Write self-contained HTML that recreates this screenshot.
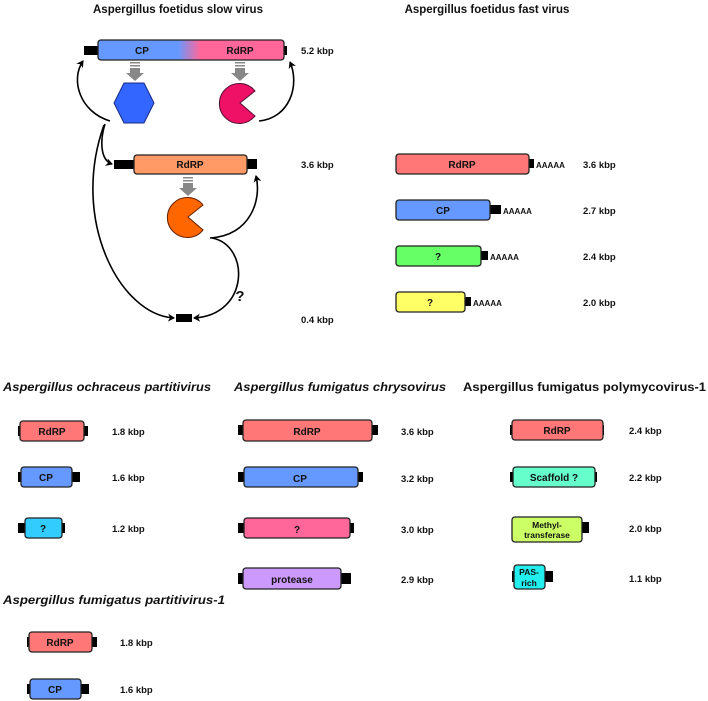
<!DOCTYPE html>
<html><head><meta charset="utf-8"><style>
body{margin:0;background:#fff}
svg{display:block}
text{font-family:"Liberation Sans",sans-serif;font-weight:bold;fill:#111}
.t{font-size:11.5px}
.l{font-size:9.5px}
.b{font-size:10px}
.a{font-size:8px}
.r{stroke:#222;stroke-width:1.3}
.c{fill:none;stroke:#000;stroke-width:1.6}
</style></head><body>
<svg width="708" height="701" viewBox="0 0 708 701" xmlns="http://www.w3.org/2000/svg">
<defs>
<linearGradient id="g" x1="98" x2="284" y1="0" y2="0" gradientUnits="userSpaceOnUse">
<stop offset="0.43" stop-color="#6699ff"/><stop offset="0.55" stop-color="#ff6699"/></linearGradient>
<marker id="m" markerWidth="8" markerHeight="8" refX="6" refY="4" orient="auto" markerUnits="userSpaceOnUse"><path d="M0,0 L7,4 L0,8 L2,4z" fill="#000"/></marker>
</defs>
<text class="t" x="178" y="13" text-anchor="middle">Aspergillus foetidus slow virus</text>
<text class="t" x="487" y="13" text-anchor="middle">Aspergillus foetidus fast virus</text>

<!-- 5.2 -->
<rect x="84" y="46" width="16" height="9" fill="#000"/>
<rect x="282" y="46" width="5" height="9" fill="#000"/>
<rect class="r" x="98" y="40" width="186" height="20" rx="3" fill="url(#g)"/>
<text class="b" x="142" y="54" text-anchor="middle">CP</text>
<text class="b" x="240" y="54" text-anchor="middle">RdRP</text>
<text class="l" x="301" y="54">5.2 kbp</text>
<!-- gray arrows -->
<g fill="#888">
<rect x="130" y="62" width="10" height="1.5"/><rect x="130" y="65" width="10" height="1.5"/><rect x="130" y="68" width="10" height="6"/><path d="M126,73 L144,73 L135,81z"/>
<rect x="235" y="62" width="10" height="1.5"/><rect x="235" y="65" width="10" height="1.5"/><rect x="235" y="68" width="10" height="6"/><path d="M231,73 L249,73 L240,81z"/>
<rect x="183" y="177" width="10" height="1.5"/><rect x="183" y="180" width="10" height="1.5"/><rect x="183" y="183" width="10" height="6"/><path d="M179,188 L197,188 L188,196z"/>
</g>
<polygon points="124,83 144,83 154,103 144,123 124,123 114,103" fill="#3366ff" stroke="#1a2a88" stroke-width="1"/>
<path d="M255,91 A20,20 0 1,0 255,116 L240,103z" fill="#ee1166" stroke="#551133" stroke-width="1"/>
<!-- 3.6 -->
<rect x="114" y="160" width="22" height="9" fill="#000"/>
<rect x="245" y="159" width="12" height="10" fill="#000"/>
<rect class="r" x="134" y="155" width="113" height="19" rx="3" fill="#ff9966"/>
<text class="b" x="190" y="168" text-anchor="middle">RdRP</text>
<text class="l" x="301" y="168">3.6 kbp</text>
<path d="M203,205 A20,20 0 1,0 203,230 L188,217z" fill="#ff6600" stroke="#662200" stroke-width="1"/>
<!-- connectors -->
<path class="c" d="M110,121 C80,112 70,80 83,61" marker-end="url(#m)"/>
<path class="c" d="M259,121 C290,118 300,85 290,62" marker-end="url(#m)"/>
<path class="c" d="M105,124 C100,140 100,160 112,164" marker-end="url(#m)"/>
<path class="c" d="M210,238 C250,236 262,200 256,176" marker-end="url(#m)"/>
<path class="c" d="M104,125 C70,220 120,315 174,318" marker-end="url(#m)"/>
<path class="c" d="M212,238 C250,245 250,315 194,318" marker-end="url(#m)"/>
<text x="240" y="301" style="font-size:15px" text-anchor="middle">?</text>
<rect x="176" y="314" width="16" height="8" fill="#000"/>
<text class="l" x="301" y="323">0.4 kbp</text>

<!-- fast -->
<g>
<rect x="527" y="159" width="7" height="9" fill="#000"/>
<rect class="r" x="396" y="154" width="133" height="20" rx="3" fill="#ff7777"/>
<text class="b" x="462" y="168" text-anchor="middle">RdRP</text>
<text class="a" x="536" y="168">AAAAA</text><text class="l" x="583" y="168">3.6 kbp</text>
<rect x="488" y="205" width="13" height="9" fill="#000"/>
<rect class="r" x="396" y="200" width="94" height="20" rx="3" fill="#6699ff"/>
<text class="b" x="443" y="214" text-anchor="middle">CP</text>
<text class="a" x="503" y="214">AAAAA</text><text class="l" x="583" y="214">2.7 kbp</text>
<rect x="479" y="251" width="9" height="9" fill="#000"/>
<rect class="r" x="396" y="246" width="85" height="20" rx="3" fill="#66ff66"/>
<text class="b" x="438" y="260" text-anchor="middle">?</text>
<text class="a" x="490" y="260">AAAAA</text><text class="l" x="583" y="260">2.4 kbp</text>
<rect x="463" y="297" width="8" height="9" fill="#000"/>
<rect class="r" x="396" y="292" width="69" height="20" rx="3" fill="#ffff66"/>
<text class="b" x="430" y="306" text-anchor="middle">?</text>
<text class="a" x="473" y="306">AAAAA</text><text class="l" x="583" y="306">2.0 kbp</text>
</g>

<!-- bottom titles -->
<text class="t" x="3" y="391" font-style="italic" textLength="208" lengthAdjust="spacingAndGlyphs">Aspergillus ochraceus partitivirus</text>
<text class="t" x="234" y="391" font-style="italic" textLength="212" lengthAdjust="spacingAndGlyphs">Aspergillus fumigatus chrysovirus</text>
<text class="t" x="463" y="391" textLength="243" lengthAdjust="spacingAndGlyphs">Aspergillus fumigatus polymycovirus-1</text>
<text class="t" x="3" y="604" font-style="italic" textLength="222" lengthAdjust="spacingAndGlyphs">Aspergillus fumigatus partitivirus-1</text>

<!-- ochraceus -->
<rect x="18" y="426" width="70" height="10" fill="#000"/>
<rect class="r" x="20" y="421" width="64" height="20" rx="3" fill="#ff7777"/>
<text class="b" x="52" y="435" text-anchor="middle">RdRP</text><text class="l" x="112" y="435">1.8 kbp</text>
<rect x="18" y="472" width="62" height="10" fill="#000"/>
<rect class="r" x="21" y="467" width="51" height="20" rx="3" fill="#6699ff"/>
<text class="b" x="46" y="481" text-anchor="middle">CP</text><text class="l" x="112" y="481">1.6 kbp</text>
<rect x="18" y="523" width="47" height="10" fill="#000"/>
<rect class="r" x="25" y="518" width="37" height="20" rx="3" fill="#33ccff"/>
<text class="b" x="43" y="532" text-anchor="middle">?</text><text class="l" x="112" y="532">1.2 kbp</text>

<!-- partiti-1 -->
<rect x="27" y="637" width="70" height="10" fill="#000"/>
<rect class="r" x="29" y="632" width="63" height="20" rx="3" fill="#ff7777"/>
<text class="b" x="60" y="646" text-anchor="middle">RdRP</text><text class="l" x="120" y="646">1.8 kbp</text>
<rect x="27" y="684" width="62" height="10" fill="#000"/>
<rect class="r" x="30" y="679" width="51" height="20" rx="3" fill="#6699ff"/>
<text class="b" x="55" y="693" text-anchor="middle">CP</text><text class="l" x="120" y="693">1.6 kbp</text>

<!-- chryso -->
<rect x="238" y="425" width="140" height="10" fill="#000"/>
<rect class="r" x="243" y="420" width="129" height="21" rx="3" fill="#ff7777"/>
<text class="b" x="307" y="435" text-anchor="middle">RdRP</text><text class="l" x="401" y="435">3.6 kbp</text>
<rect x="238" y="472" width="125" height="10" fill="#000"/>
<rect class="r" x="244" y="467" width="114" height="20" rx="3" fill="#6699ff"/>
<text class="b" x="300" y="482" text-anchor="middle">CP</text><text class="l" x="401" y="482">3.2 kbp</text>
<rect x="238" y="523" width="116" height="10" fill="#000"/>
<rect class="r" x="244" y="518" width="106" height="20" rx="3" fill="#ff6699"/>
<text class="b" x="297" y="533" text-anchor="middle">?</text><text class="l" x="401" y="533">3.0 kbp</text>
<rect x="238" y="573" width="113" height="11" fill="#000"/>
<rect class="r" x="243" y="568" width="98" height="21" rx="3" fill="#cc99ff"/>
<text class="b" x="292" y="583" text-anchor="middle">protease</text><text class="l" x="401" y="583">2.9 kbp</text>

<!-- polymyco -->
<rect x="510" y="425" width="94" height="10" fill="#000"/>
<rect class="r" x="512" y="420" width="91" height="20" rx="3" fill="#ff7777"/>
<text class="b" x="557" y="434" text-anchor="middle">RdRP</text><text class="l" x="629" y="434">2.4 kbp</text>
<rect x="510" y="472" width="87" height="10" fill="#000"/>
<rect class="r" x="513" y="467" width="82" height="20" rx="3" fill="#66ffcc"/>
<text class="b" x="554" y="481" text-anchor="middle">Scaffold  ?</text><text class="l" x="629" y="481">2.2 kbp</text>
<rect x="512" y="522" width="77" height="11" fill="#000"/>
<rect class="r" x="512" y="517" width="70" height="25" rx="3" fill="#ccff66"/>
<text x="547" y="528" text-anchor="middle" style="font-size:8.5px">Methyl-</text>
<text x="547" y="538" text-anchor="middle" style="font-size:8.5px">transferase</text>
<text class="l" x="629" y="532">2.0 kbp</text>
<rect x="512" y="571" width="41" height="11" fill="#000"/>
<rect class="r" x="514" y="565" width="31" height="24" rx="3" fill="#22eeee"/>
<text x="529" y="575" text-anchor="middle" style="font-size:8.5px">PAS-</text>
<text x="529" y="586" text-anchor="middle" style="font-size:8.5px">rich</text>
<text class="l" x="629" y="582">1.1 kbp</text>
</svg>
</body></html>
